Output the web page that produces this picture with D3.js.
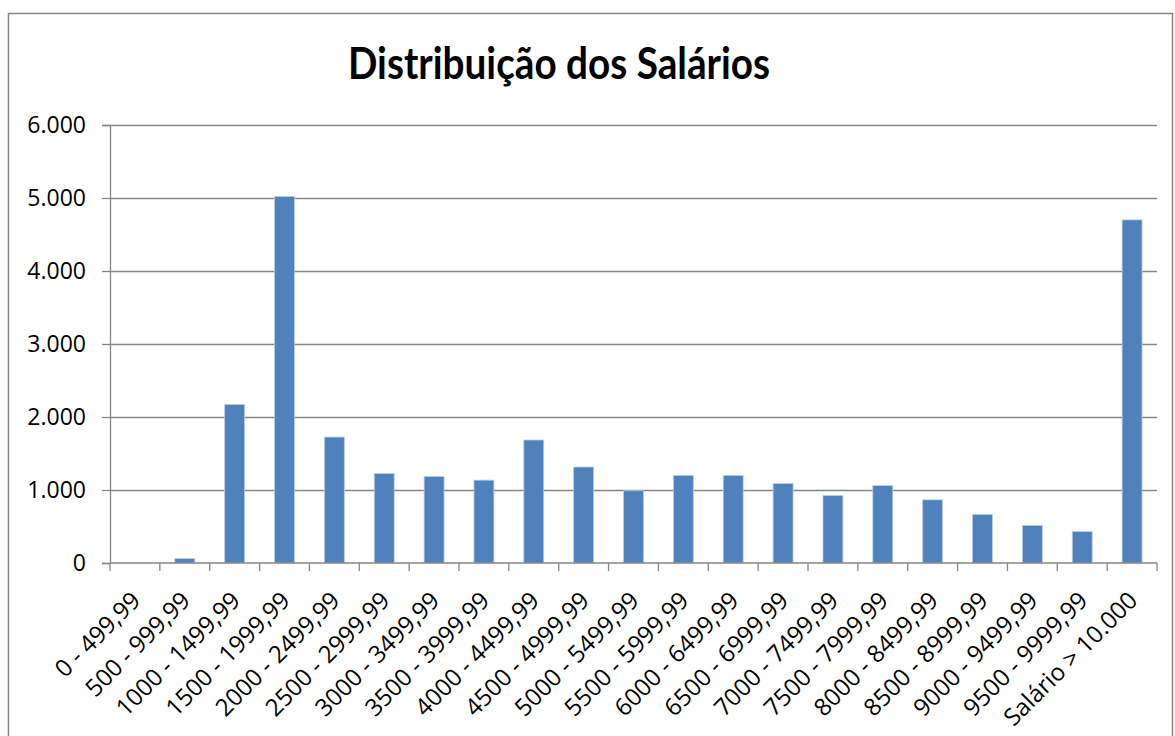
<!DOCTYPE html>
<html>
<head>
<meta charset="utf-8">
<script src="https://cdn.jsdelivr.net/npm/d3@7"></script>
<style>
  body { margin: 0; background: #fff; }
  text { font-family: "Open Sans", Lato, sans-serif; fill: #000; }
</style>
</head>
<body>
<div id="chart"></div>
<script>
// faixas salariais (categorias do eixo x)
var categories = ['0 - 499,99', '500 - 999,99', '1000 - 1499,99', '1500 - 1999,99',
    '2000 - 2499,99', '2500 - 2999,99', '3000 - 3499,99', '3500 - 3999,99',
    '4000 - 4499,99', '4500 - 4999,99', '5000 - 5499,99', '5500 - 5999,99',
    '6000 - 6499,99', '6500 - 6999,99', '7000 - 7499,99', '7500 - 7999,99',
    '8000 - 8499,99', '8500 - 8999,99', '9000 - 9499,99', '9500 - 9999,99',
    'Salário > 10.000'];
// quantidade por faixa
var counts = [0, 60, 2170, 5020, 1725, 1225, 1185, 1135, 1685, 1315, 990,
    1200, 1200, 1090, 925, 1060, 865, 665, 515, 430, 4700];
var yTicks = [0, 1000, 2000, 3000, 4000, 5000, 6000];
var title = 'Distribuição dos Salários';

var data = categories.map(function(c, i) { return {cat: c, value: counts[i]}; });

var W = 1175, H = 736;
var margin = {top: 125, right: 18, bottom: 173, left: 110},
    width = W - margin.left - margin.right,
    height = H - margin.top - margin.bottom;

var svg = d3.select('#chart').append('svg')
    .attr('width', W)
    .attr('height', H);

// borda da area do grafico
svg.append('rect')
    .attr('x', 8.5).attr('y', 13.5)
    .attr('width', 1164).attr('height', 740)
    .attr('fill', '#fff')
    .attr('stroke', '#868686')
    .attr('stroke-width', 1.5);

// titulo
svg.append('text')
    .attr('x', 559).attr('y', 79)
    .attr('text-anchor', 'middle')
    .attr('textLength', 422)
    .attr('lengthAdjust', 'spacingAndGlyphs')
    .style('font-family', 'Lato, "Open Sans", sans-serif')
    .style('font-weight', 'bold')
    .style('font-size', '43px')
    .text(title);

var g = svg.append('g')
    .attr('transform', 'translate(' + margin.left + ',' + margin.top + ')');

var x = d3.scaleBand()
    .domain(categories)
    .range([0, width])
    .paddingInner(0.6)
    .paddingOuter(0.3);

var y = d3.scaleLinear()
    .domain([0, 6000])
    .range([height, 0]);

var ptBR = d3.formatLocale({decimal: ',', thousands: '.', grouping: [3], currency: ['R$', '']});
var fmt = ptBR.format(',');

// linhas de grade
g.append('g')
    .selectAll('line')
    .data(yTicks.filter(function(d) { return d > 0; }))
    .enter().append('line')
    .attr('x1', 0).attr('x2', width)
    .attr('y1', function(d) { return Math.round(y(d)) + 0.5; })
    .attr('y2', function(d) { return Math.round(y(d)) + 0.5; })
    .attr('stroke', '#868686')
    .attr('stroke-width', 1.3);

// barras
g.append('g')
    .selectAll('rect')
    .data(data)
    .enter().append('rect')
    .attr('x', function(d) { return x(d.cat); })
    .attr('y', function(d) { return y(d.value); })
    .attr('width', x.bandwidth())
    .attr('height', function(d) { return height - y(d.value); })
    .attr('fill', '#4f81bd')
    .attr('stroke', '#b9cde5')
    .attr('stroke-width', 0.8);

// eixo y
var yAxis = g.append('g')
    .call(d3.axisLeft(y).tickValues(yTicks).tickFormat(fmt).tickSize(8).tickPadding(16));
yAxis.selectAll('line, path').attr('stroke', '#868686').attr('stroke-width', 1.3);
yAxis.selectAll('text').style('font-size', '23px').style('font-family', '"Open Sans", Lato, sans-serif');

// eixo x (marcas entre categorias)
var step = x.step();
var bounds = d3.range(categories.length + 1).map(function(i) { return i * step; });
g.append('line')
    .attr('x1', 0).attr('x2', width)
    .attr('y1', height).attr('y2', height)
    .attr('stroke', '#868686').attr('stroke-width', 1.5);
g.append('g')
    .selectAll('line')
    .data(bounds)
    .enter().append('line')
    .attr('x1', function(d) { return d; }).attr('x2', function(d) { return d; })
    .attr('y1', height).attr('y2', height + 8)
    .attr('stroke', '#868686').attr('stroke-width', 1.3);

// rotulos do eixo x
g.append('g')
    .selectAll('text')
    .data(categories)
    .enter().append('text')
    .attr('transform', function(d) {
        return 'translate(' + (x(d) + x.bandwidth() / 2 + 1) + ',' + (height + 33) + ') rotate(-45)';
    })
    .attr('text-anchor', 'end')
    .attr('dy', '0.35em')
    .style('font-size', '24px')
    .text(function(d) { return d; });
</script>
</body>
</html>
